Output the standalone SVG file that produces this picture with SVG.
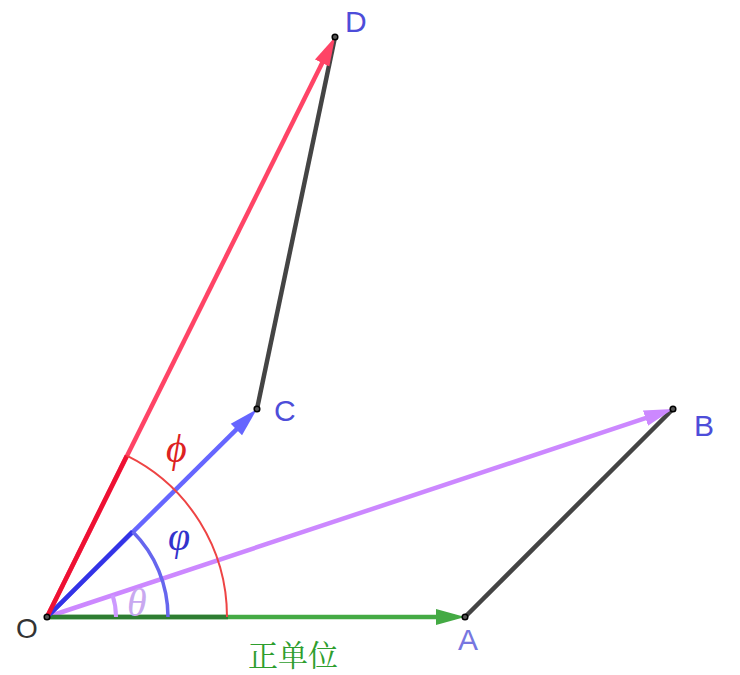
<svg xmlns="http://www.w3.org/2000/svg" width="740" height="675" viewBox="0 0 740 675">
<style>
.lbl{font-family:"Liberation Sans",Arial,sans-serif;font-size:30px;fill:#4d4dd9}
.ang{font-family:"Liberation Serif","DejaVu Serif",serif;font-style:italic;font-size:40px}
.seg{stroke:#444;stroke-width:4.5;fill:none}
.pt{fill:#555;stroke:#000;stroke-width:1.5}
</style>
<defs>
<marker id="ag" markerUnits="userSpaceOnUse" markerWidth="30" markerHeight="18" refX="19" refY="9" orient="auto"><path d="M0,1 L29,9 L0,17 z" fill="#44aa44"/></marker>
<marker id="av" markerUnits="userSpaceOnUse" markerWidth="30" markerHeight="18" refX="19" refY="9" orient="auto"><path d="M0,1 L29,9 L0,17 z" fill="#cc88ff"/></marker>
<marker id="ab" markerUnits="userSpaceOnUse" markerWidth="30" markerHeight="18" refX="19" refY="9" orient="auto"><path d="M0,1 L29,9 L0,17 z" fill="#6666ff"/></marker>
<marker id="ar" markerUnits="userSpaceOnUse" markerWidth="30" markerHeight="18" refX="19" refY="9" orient="auto"><path d="M0,1 L29,9 L0,17 z" fill="#ff4466"/></marker>
</defs>
<g id="connectors">
<line id="AB" class="seg" x1="465" y1="617" x2="673" y2="409"/>
<line id="CD" class="seg" x1="257" y1="409" x2="335" y2="37"/>
<line id="OA" x1="47" y1="617" x2="455" y2="617" stroke="#44aa44" stroke-width="4.5" marker-end="url(#ag)"/>
<line id="OB" x1="47" y1="617" x2="663.5" y2="412.2" stroke="#cc88ff" stroke-width="4.5" marker-end="url(#av)"/>
<line id="OC" x1="47" y1="617" x2="249.9" y2="416.1" stroke="#6666ff" stroke-width="4.5" marker-end="url(#ab)"/>
<line id="OD" x1="47" y1="617" x2="330.6" y2="46" stroke="#ff4466" stroke-width="4.5" marker-end="url(#ar)"/>
<line x1="47" y1="617" x2="228" y2="617" stroke="#2e7d32" stroke-width="4.5"/>
<line x1="47" y1="617" x2="132.6" y2="531.5" stroke="#3333e6" stroke-width="4.5"/>
<line x1="47" y1="617" x2="126.8" y2="455.7" stroke="#ee1133" stroke-width="4.5"/>
</g>
<g id="angles" fill="none">
<path d="M116,617 A69,69 0 0 0 112.5,595.2" stroke="#cc99ff" stroke-width="4"/>
<path d="M168,617 A121,121 0 0 0 132.6,531.5" stroke="#6666ee" stroke-width="3.5"/>
<path d="M227,617 A180,180 0 0 0 126.8,455.7" stroke="#ee4444" stroke-width="2"/>
<text class="ang" x="166" y="462" fill="#dd2222">ϕ</text>
<text class="ang" x="168" y="550" fill="#3333cc">φ</text>
<text class="ang" x="127" y="616" fill="#c8a8f0">θ</text>
</g>
<g id="O"><circle class="pt" cx="47" cy="617" r="2.8"/><text x="16" y="638" style="font-family:'Liberation Sans',Arial,sans-serif;font-size:28px;fill:#333">O</text></g>
<g id="A"><circle class="pt" cx="465" cy="617" r="2.8"/><text class="lbl" x="458" y="650" style="fill:#7777e0">A</text></g>
<g id="B"><circle class="pt" cx="673" cy="409" r="2.8"/><text class="lbl" x="694" y="436">B</text></g>
<g id="C"><circle class="pt" cx="257" cy="409" r="2.8"/><text class="lbl" x="274" y="421">C</text></g>
<g id="D"><circle class="pt" cx="335" cy="37" r="2.8"/><text class="lbl" x="345" y="32">D</text></g>
<g id="label"><text x="248" y="666" style="font-family:'Noto Serif CJK SC','Noto Sans CJK SC',serif;font-size:30px;fill:#2e9e2e">正单位</text></g>
</svg>
